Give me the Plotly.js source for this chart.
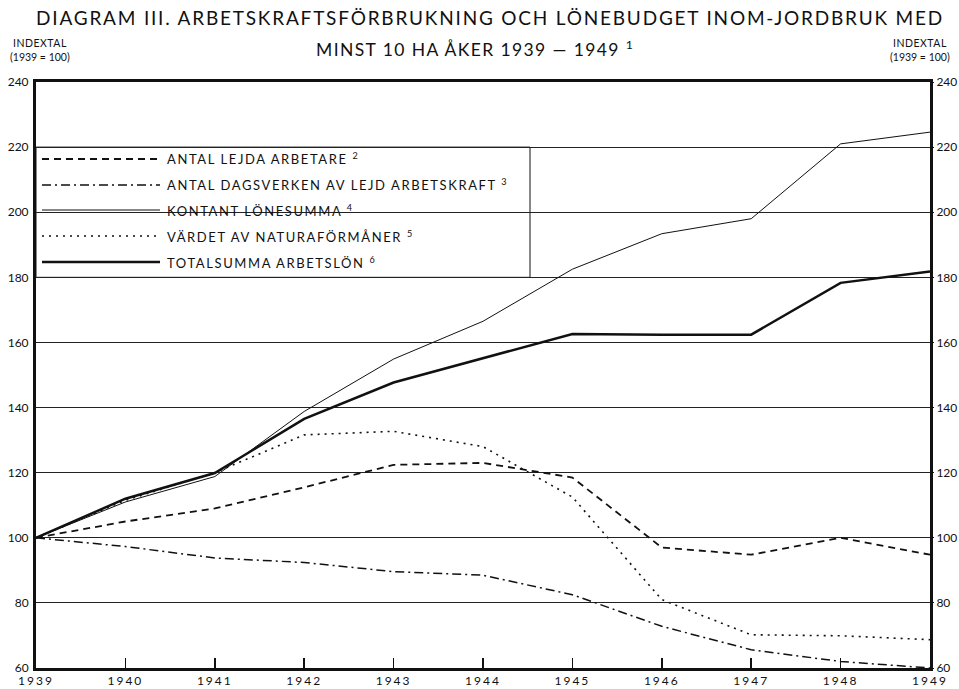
<!DOCTYPE html>
<html>
<head>
<meta charset="utf-8">
<script src="https://cdn.plot.ly/plotly-3.0.1.min.js"></script>
<style>
html,body{margin:0;padding:0;background:#fff;}
#chart{width:959px;height:689px;}
#chart .xtick text{letter-spacing:2px;}
</style>
</head>
<body>
<div id="chart"></div>
<script>
const years = [1939,1940,1941,1942,1943,1944,1945,1946,1947,1948,1949];
const lejdaArbetare    = [100,105,109,115.5,122.4,123,118.5,97,94.8,100,94.8];
const dagsverken       = [100,97.3,93.8,92.4,89.6,88.5,82.5,72.8,65.6,62,60];
const kontantLonesumma = [100,111,118.8,138.8,154.9,166.5,182.5,193.4,198,221,224.6];
const naturaformaner   = [100,111.5,120,131.6,132.7,128,112.5,81,70.2,69.9,68.7];
const totalsumma       = [100,112,119.9,136.5,147.7,155.2,162.6,162.4,162.4,178.3,181.8];
const yTicks = [60,80,100,120,140,160,180,200,220,240];

const seriesLabels = [
  'ANTAL LEJDA ARBETARE',
  'ANTAL DAGSVERKEN AV LEJD ARBETSKRAFT',
  'KONTANT LÖNESUMMA',
  'VÄRDET AV NATURAFÖRMÅNER',
  'TOTALSUMMA ARBETSLÖN'
];
const footnotes = ['2','3','4','5','6'];
const seriesData = [lejdaArbetare, dagsverken, kontantLonesumma, naturaformaner, totalsumma];
const styles = [
  {dash:'7px,5px', width:1.8},
  {dash:'9px,4px,2px,4px', width:1.5},
  {dash:'solid', width:1},
  {dash:'2px,5px', width:1.6},
  {dash:'solid', width:2.5}
];
const ink = '#111';
const font = 'Lato, "Open Sans", sans-serif';
const sp = (t, px) => '<span style="letter-spacing:' + px + 'px">' + t + '</span>';

const traces = seriesData.map((d,i)=>({
  x: years, y: d, type:'scatter', mode:'lines', name: seriesLabels[i],
  line:{color:ink, width:styles[i].width, dash:styles[i].dash}, showlegend:false, hoverinfo:'skip'
}));
// right-side axis carrier (invisible)
traces.push({x:years, y:totalsumma, yaxis:'y2', type:'scatter', mode:'lines', line:{width:0}, opacity:0, showlegend:false, hoverinfo:'skip'});

const L = 36, R = 29, T = 82, B = 21, W = 959, H = 689;
const pw = W-L-R, ph = H-T-B;
const px2x = p => (p-L)/pw;
const py2y = p => (H-B-p)/ph;

const rowsY = [159,185,210,236,262];
const shapes = [{
  type:'rect', xref:'paper', yref:'y', x0:0, x1:px2x(530), y0:180, y1:220,
  fillcolor:'#fff', line:{color:ink, width:1}, layer:'between'
}];
const annotations = [];
rowsY.forEach((ry,i)=>{
  shapes.push({type:'line', xref:'paper', yref:'paper', x0:px2x(42), x1:px2x(160), y0:py2y(ry), y1:py2y(ry),
    line:{color:ink, width:styles[i].width, dash:styles[i].dash}, layer:'above'});
  annotations.push({xref:'paper', yref:'paper', x:px2x(165), y:py2y(ry), xanchor:'left', yanchor:'middle',
    text:sp(seriesLabels[i] + ' ', 1.6) + '<sup>' + footnotes[i] + '</sup>', showarrow:false,
    font:{family:font, size:13, color:ink}});
});
annotations.push({xref:'paper', yref:'paper', x:px2x(474), y:py2y(48), xanchor:'center', yanchor:'middle',
  text:sp('MINST 10 HA ÅKER 1939 — 1949 ', 1.4) + '<sup>1</sup>', showarrow:false, font:{family:font, size:17.5, color:ink}});
[[40,'INDEXTAL'],[920,'INDEXTAL']].forEach(([x,t])=>{
  annotations.push({xref:'paper', yref:'paper', x:px2x(x), y:py2y(43), xanchor:'center', yanchor:'middle',
    text:sp(t, 0.5), showarrow:false, font:{family:font, size:10.5, color:ink}});
  annotations.push({xref:'paper', yref:'paper', x:px2x(x), y:py2y(57), xanchor:'center', yanchor:'middle',
    text:'(1939 = 100)', showarrow:false, font:{family:font, size:10.5, color:ink}});
});

const layout = {
  width:W, height:H, margin:{l:L, r:R, t:T, b:B},
  paper_bgcolor:'#fff', plot_bgcolor:'#fff',
  font:{family:font, color:ink},
  title:{text:sp('DIAGRAM III. ARBETSKRAFTSFÖRBRUKNING OCH LÖNEBUDGET INOM-JORDBRUK MED', 1.8),
    x:490/W, xanchor:'center', y:1-18/H, yanchor:'middle', font:{family:font, size:19, color:ink}},
  xaxis:{range:[1939,1949], tickvals:years, ticks:'inside', ticklen:10, tickwidth:1.5, tickcolor:ink,
    showline:true, linewidth:3, linecolor:ink, mirror:true, showgrid:false, zeroline:false,
    tickfont:{family:font, size:12, color:ink}, fixedrange:true},
  yaxis:{range:[60,240], tickvals:yTicks, ticks:'', showgrid:true, gridcolor:'#222', gridwidth:1,
    showline:true, linewidth:3, linecolor:ink, mirror:true, zeroline:false,
    tickfont:{family:font, size:12, color:ink}, ticklabelstandoff:2},
  yaxis2:{range:[60,240], tickvals:yTicks, overlaying:'y', side:'right', ticks:'outside', ticklen:3,
    tickcolor:ink, tickwidth:1, showgrid:false, zeroline:false, showline:false,
    tickfont:{family:font, size:12, color:ink}, ticklabelstandoff:0},
  shapes:shapes, annotations:annotations, showlegend:false
};
Plotly.newPlot('chart', traces, layout, {staticPlot:true});
</script>
</body>
</html>
